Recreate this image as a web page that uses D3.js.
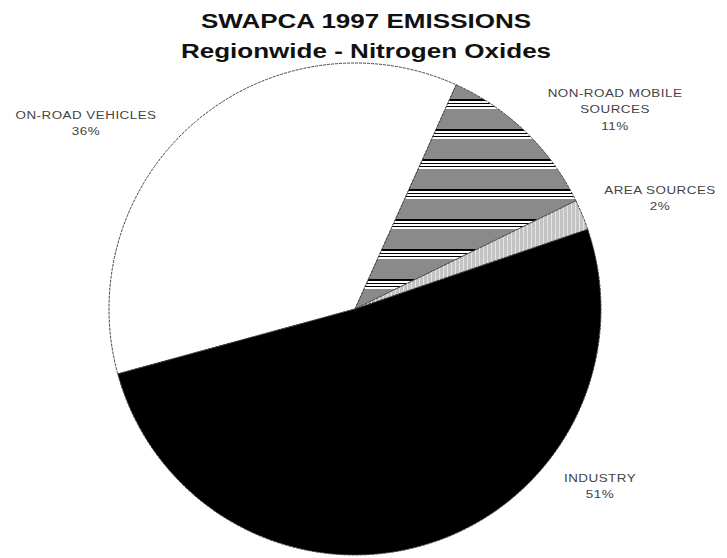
<!DOCTYPE html>
<html>
<head>
<meta charset="utf-8">
<script src="https://cdn.jsdelivr.net/npm/d3@7"></script>
<style>
  body { margin: 0; background: #fff; }
  svg { display: block; }
</style>
</head>
<body>
<svg id="chart" width="727" height="558"></svg>
<script>
var titleLines = ["SWAPCA 1997 EMISSIONS", "Regionwide - Nitrogen Oxides"]
var categories = [["ON-ROAD VEHICLES"], ["NON-ROAD MOBILE", "SOURCES"], ["AREA SOURCES"], ["INDUSTRY"]]
var shares = [36, 11, 2, 51]

var svg = d3.select("#chart")
var cx = 355, cy = 309, radius = 246

// label anchor points (centre of text block)
var labelAt = [[86, 115], [615, 93], [660, 190], [600, 478]]
var fills = ["#ffffff", "url(#stripes)", "url(#dots)", "#000000"]

var defs = svg.append("defs")
var stripes = defs.append("pattern")
  .attr("id", "stripes")
  .attr("patternUnits", "userSpaceOnUse")
  .attr("width", 20).attr("height", 30)
stripes.append("rect").attr("width", 20).attr("height", 30).attr("fill", "#8a8a8a")
var stripeRows = [[0, "#000"], [2, "#fff"], [4, "#000"], [5, "#fff"], [7, "#000"], [8, "#fff"]]
stripeRows.forEach(function(s){
  stripes.append("rect").attr("x", 0).attr("y", s[0]).attr("width", 20).attr("height", s[0] == 4 || s[0] == 7 ? 1 : 2).attr("fill", s[1])
})

var dots = defs.append("pattern")
  .attr("id", "dots")
  .attr("patternUnits", "userSpaceOnUse")
  .attr("width", 4).attr("height", 4)
dots.append("rect").attr("width", 4).attr("height", 4).attr("fill", "#c4c4c4")
dots.append("rect").attr("x", 0).attr("y", 0).attr("width", 1).attr("height", 4).attr("fill", "#e4e4e4")

var pie = d3.pie().sort(null)
  .startAngle(-105.3 * Math.PI / 180)
  .endAngle(-105.3 * Math.PI / 180 + 2 * Math.PI)

var arc = d3.arc().innerRadius(0).outerRadius(radius)

var slices = svg.append("g")
  .attr("transform", "translate(" + cx + "," + cy + ")")

slices.selectAll("path").data(pie(shares)).enter()
  .append("path")
  .attr("d", arc)
  .attr("fill", function(d, i){ return fills[i] })
  .attr("stroke", "#444")
  .attr("stroke-width", 1)
  .attr("stroke-dasharray", "3,1")

// the original lettering is stretched sideways, so scale x a bit
svg.selectAll(".title").data(titleLines).enter()
  .append("text")
  .attr("class", "title")
  .attr("transform", function(d, i){ return "translate(366," + (28 + i * 30) + ") scale(1.24,1)" })
  .attr("text-anchor", "middle")
  .attr("font-family", "Liberation Sans, Arial, sans-serif")
  .attr("font-weight", "bold")
  .attr("font-size", "21px")
  .attr("fill", "#111")
  .text(function(d){ return d })

var labels = svg.selectAll(".lbl").data(categories).enter()
  .append("g")
  .attr("class", "lbl")
  .attr("transform", function(d, i){ return "translate(" + labelAt[i][0] + "," + labelAt[i][1] + ") scale(1.22,1)" })

labels.each(function(d, i){
  var g = d3.select(this)
  var rows = d.concat([shares[i] + "%"])
  rows.forEach(function(r, k){
    g.append("text")
      .attr("x", 0)
      .attr("y", 4 + k * 16.5)
      .attr("text-anchor", "middle")
      .attr("font-family", "Liberation Sans, Arial, sans-serif")
      .attr("font-size", "11px")
      .attr("letter-spacing", "0.4px")
      .attr("fill", "#444")
      .text(r)
  })
})
</script>
</body>
</html>
